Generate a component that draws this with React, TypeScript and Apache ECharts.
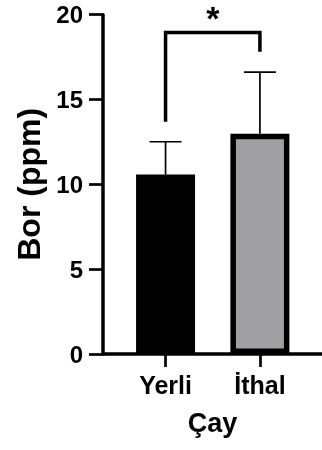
import React, { useEffect, useRef } from "react";
import * as echarts from "echarts";

const categories = ["Yerli", "İthal"];
const xPositions = [1, 2];
const means = [10.58, 12.98];
const sds = [1.93, 3.64];
const barColors = ["#000000", "#a09fa4"];
const yTicks = [0, 5, 10, 15, 20];
// significance bracket: [xLeft, xRight, yTop, yLeftEnd, yRightEnd, yStarTop]
const bracket = [1, 2, 18.95, 13.69, 17.81, 20.83];
const sigLabel = "*";

const FONT = "Arial, 'Liberation Sans', sans-serif";

export default function App() {
  const ref = useRef<HTMLDivElement>(null);
  useEffect(() => {
    if (!ref.current) return;
    const chart = echarts.init(ref.current, null, { renderer: "svg" });
    const option: any = {
      animation: false,
      grid: { left: 103, right: -5, top: 14.7, bottom: 96, containLabel: false },
      xAxis: {
        type: "value",
        min: 0.337,
        max: 2.658,
        name: "Çay",
        nameLocation: "middle",
        nameGap: 55,
        nameTextStyle: { fontSize: 27, fontWeight: "bold", color: "#000", fontFamily: FONT },
        splitLine: { show: false },
        axisLine: { show: true, onZero: false, lineStyle: { color: "#000", width: 3.5 } },
        axisTick: { show: true, length: 13, lineStyle: { color: "#000", width: 2.7 }, customValues: xPositions },
        axisLabel: {
          customValues: xPositions,
          formatter: (v: number) => categories[xPositions.indexOf(Math.round(v))] ?? "",
          fontSize: 25,
          fontWeight: "bold",
          color: "#000",
          fontFamily: FONT,
          margin: 18,
        },
      },
      yAxis: {
        type: "value",
        min: yTicks[0],
        max: yTicks[yTicks.length - 1],
        interval: 5,
        name: "Bor (ppm)",
        nameLocation: "middle",
        nameGap: 57,
        nameTextStyle: { fontSize: 32, fontWeight: "bold", color: "#000", fontFamily: FONT },
        splitLine: { show: false },
        axisLine: { show: true, lineStyle: { color: "#000", width: 3.5 } },
        axisTick: { show: true, length: 14, lineStyle: { color: "#000", width: 2.7 } },
        axisLabel: { fontSize: 24, fontWeight: "bold", color: "#000", fontFamily: FONT, margin: 20 },
      },
      series: [
        {
          type: "bar",
          barWidth: 59,
          data: xPositions.map((x, i) => ({
            value: [x, means[i]],
            itemStyle: { color: barColors[i], borderColor: "#000", borderWidth: 5.5 },
          })),
          z: 2,
        },
        {
          type: "custom",
          z: 3,
          data: xPositions.map((x, i) => [x, means[i], means[i] + sds[i]]),
          renderItem: (params: any, api: any) => {
            const x = api.value(0);
            const base = api.coord([x, api.value(1)]);
            const top = api.coord([x, api.value(2)]);
            const half = 16;
            return {
              type: "group",
              children: [
                { type: "line", shape: { x1: base[0], y1: base[1], x2: top[0], y2: top[1] }, style: { stroke: "#000", lineWidth: 1.7 } },
                { type: "line", shape: { x1: top[0] - half, y1: top[1], x2: top[0] + half, y2: top[1] }, style: { stroke: "#000", lineWidth: 1.7 } },
              ],
            };
          },
        },
        {
          type: "custom",
          z: 3,
          clip: false,
          data: [bracket],
          renderItem: (params: any, api: any) => {
            const xl = api.value(0), xr = api.value(1);
            const pTL = api.coord([xl, api.value(2)]);
            const pTR = api.coord([xr, api.value(2)]);
            const pL = api.coord([xl, api.value(3)]);
            const pR = api.coord([xr, api.value(4)]);
            const pS = api.coord([(xl + xr) / 2, api.value(5)]);
            return {
              type: "group",
              children: [
                {
                  type: "polyline",
                  shape: { points: [pL, pTL, pTR, pR] },
                  style: { stroke: "#000", lineWidth: 3.5, fill: null, lineJoin: "miter" },
                },
                {
                  type: "text",
                  x: pS[0],
                  y: pS[1],
                  style: {
                    text: sigLabel,
                    fontSize: 34,
                    fontWeight: "bold",
                    fontFamily: FONT,
                    fill: "#000",
                    align: "center",
                    verticalAlign: "top",
                  },
                },
              ],
            };
          },
        },
      ],
    };
    chart.setOption(option);
    return () => chart.dispose();
  }, []);
  return <div ref={ref} style={{ position: "fixed", left: 0, top: 0, width: 322, height: 450 }} />;
}
